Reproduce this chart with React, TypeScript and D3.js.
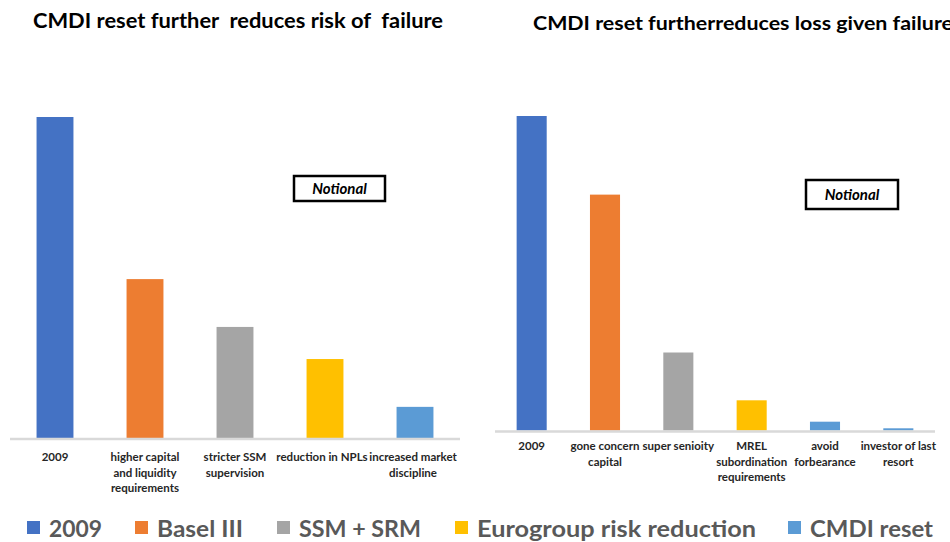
import React from "react";
import * as d3 from "d3";

const leftCategories = [
  ["2009"],
  ["higher capital", "and liquidity", "requirements"],
  ["stricter SSM", "supervision"],
  ["reduction in NPLs"],
  ["increased market", "discipline"],
];
const leftValues = [100, 49.5, 34.6, 24.6, 9.7];

const rightCategories = [
  ["2009"],
  ["gone concern", "capital"],
  ["super senioity"],
  ["MREL", "subordination", "requirements"],
  ["avoid", "forbearance"],
  ["investor of last", "resort"],
];
const rightValues = [100, 75, 24.8, 9.6, 2.8, 0.7];
const rightColors = ["#4472C4", "#ED7D31", "#A5A5A5", "#FFC000", "#5B9BD5", "#5B9BD5"];

const legendLabels = ["2009", "Basel III", "SSM + SRM", "Eurogroup risk reduction", "CMDI reset"];
const colors = ["#4472C4", "#ED7D31", "#A5A5A5", "#FFC000", "#5B9BD5"];

const leftTitle = "CMDI reset further  reduces risk of  failure";
const rightTitle = "CMDI reset furtherreduces loss given failure";
const notional = "Notional";

const FONT = "Lato, 'Open Sans', sans-serif";

function Panel({ cats, values, cols, x0, x1, base, top, labelY, labelOffset }) {
  const x = d3.scaleBand().domain(cats.map((_, i) => String(i))).range([x0, x1]).paddingInner(0.59).paddingOuter(0.295);
  const y = d3.scaleLinear().domain([0, 100]).range([base, top]);
  return (
    <g>
      {values.map((v, i) => (
        <rect key={i} x={x(String(i))} y={y(v)} width={x.bandwidth()} height={base - y(v)} fill={cols[i]} />
      ))}
      <line x1={x0} x2={x1} y1={base + 1} y2={base + 1} stroke="#D9D9D9" strokeWidth={2.5} />
      {cats.map((lines, i) => {
        const cx = x(String(i)) + x.bandwidth() / 2 + (labelOffset ? labelOffset[i] : 0);
        return (
          <text key={i} x={cx} y={labelY} textAnchor="middle"
            fontFamily={FONT} fontWeight="bold" fontSize={11.5} fill="#262626">
            {lines.map((l, j) => (
              <tspan key={j} x={cx} dy={j === 0 ? 0 : 15.5}>{l}</tspan>
            ))}
          </text>
        );
      })}
    </g>
  );
}

export default function App() {
  const legendX = [27, 135, 277, 455, 788];
  const legendW = [53, 86, 122, 279, 123];
  return (
    <svg width={950} height={542} style={{ position: "absolute", left: 0, top: 0, background: "#fff" }}>
      <rect width={950} height={542} fill="#fff" />
      <text x={238} y={28} textAnchor="middle" fontFamily={FONT} fontWeight="bold" fontSize={20} fill="#000"
        textLength={410} lengthAdjust="spacingAndGlyphs" style={{ whiteSpace: "pre" }}>{leftTitle}</text>
      <text x={533} y={30} fontFamily={FONT} fontWeight="bold" fontSize={18} fill="#000"
        textLength={420} lengthAdjust="spacingAndGlyphs">{rightTitle}</text>

      <Panel cats={leftCategories} values={leftValues} cols={colors} x0={10} x1={460} base={438} top={117} labelY={461}
        labelOffset={[0, 0, 0, -3, -2]} />
      <Panel cats={rightCategories} values={rightValues} cols={rightColors} x0={495} x1={935} base={430.5} top={116} labelY={450} />

      <rect x={294} y={176} width={91} height={25} fill="#fff" stroke="#000" strokeWidth={2.5} />
      <text x={339.5} y={194} textAnchor="middle" fontFamily={FONT} fontWeight="bold" fontStyle="italic" fontSize={15}>{notional}</text>
      <rect x={806} y={180} width={92} height={29} fill="#fff" stroke="#000" strokeWidth={2.5} />
      <text x={852} y={199.5} textAnchor="middle" fontFamily={FONT} fontWeight="bold" fontStyle="italic" fontSize={15}>{notional}</text>

      {legendLabels.map((l, i) => (
        <g key={i}>
          <rect x={legendX[i]} y={521} width={13} height={13} fill={colors[i]} />
          <text x={legendX[i] + 22} y={537} fontFamily={FONT} fontWeight="bold" fontSize={23} fill="#595959"
            textLength={legendW[i]} lengthAdjust="spacingAndGlyphs">{l}</text>
        </g>
      ))}
    </svg>
  );
}
